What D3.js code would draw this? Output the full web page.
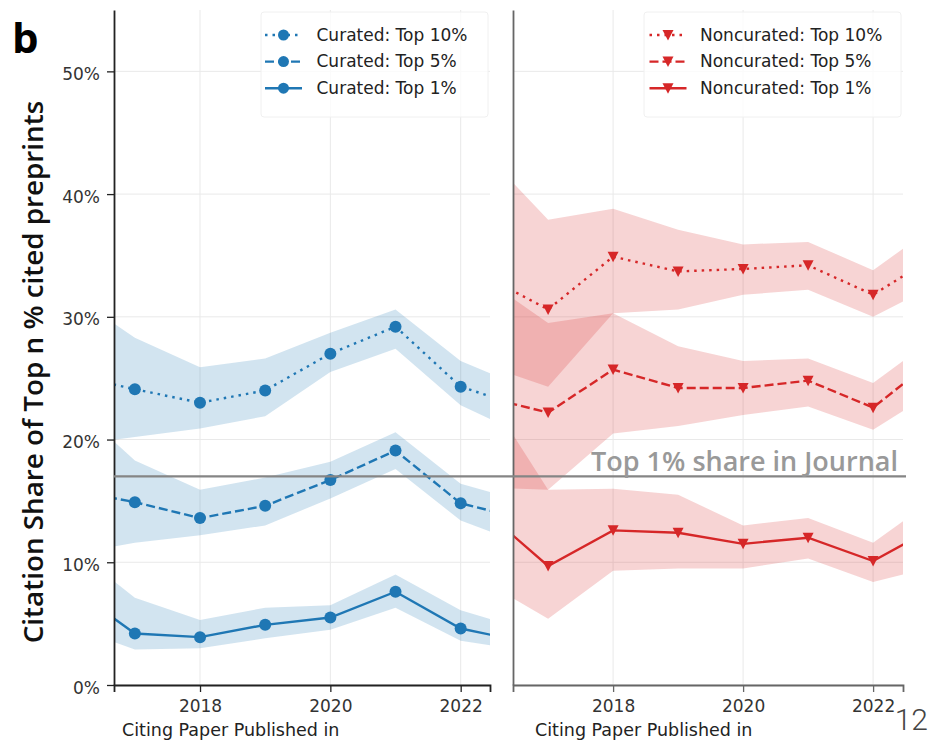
<!DOCTYPE html>
<html>
<head>
<meta charset="utf-8">
<script src="https://cdn.jsdelivr.net/npm/d3@7"></script>
<style>
  body { margin: 0; background: #fff; }
  svg { display: block; font-family: "DejaVu Sans", sans-serif; }
</style>
</head>
<body>
<svg id="chart" width="930" height="740"></svg>
<script>
// Data (share in %, years outside the visible window keep the line/band edges right)
const years = [2016, 2017, 2018, 2019, 2020, 2021, 2022, 2023];

const curated10 = [25.3, 24.1, 23.0, 24.0, 27.0, 29.2, 24.3, 22.6];
const curated10Lo = [19.5, 20.2, 20.9, 21.9, 25.5, 27.4, 22.8, 20.3];
const curated10Hi = [31.9, 28.3, 25.9, 26.6, 28.7, 30.6, 26.4, 24.2];

const curated5 = [15.9, 14.9, 13.6, 14.6, 16.7, 19.1, 14.8, 13.5];
const curated5Lo = [10.6, 11.6, 12.2, 13.0, 15.2, 17.6, 13.4, 11.4];
const curated5Hi = [23.1, 18.3, 15.9, 16.9, 18.2, 20.6, 16.4, 14.9];

const curated1 = [8.0, 4.2, 3.9, 4.9, 5.5, 7.6, 4.6, 3.5];
const curated1Lo = [4.8, 2.9, 3.0, 3.8, 4.5, 6.3, 3.6, 2.8];
const curated1Hi = [11.3, 7.1, 5.3, 6.3, 6.5, 9.0, 6.1, 4.5];

const noncurated10 = [33.4, 30.6, 34.9, 33.7, 33.9, 34.2, 31.8, 35.1];
const noncurated10Lo = [26.1, 24.3, 30.3, 30.6, 31.8, 32.2, 30.0, 32.7];
const noncurated10Hi = [43.5, 37.9, 38.8, 37.1, 35.9, 36.1, 33.8, 37.6];

const noncurated5 = [23.5, 22.2, 25.7, 24.2, 24.2, 24.8, 22.6, 26.8];
const noncurated5Lo = [16.1, 15.9, 20.5, 21.1, 22.0, 22.7, 20.8, 24.1];
const noncurated5Hi = [33.2, 29.5, 30.3, 27.6, 26.4, 26.6, 24.6, 28.5];

const noncurated1 = [14.3, 9.7, 12.6, 12.4, 11.5, 12.0, 10.1, 13.0];
const noncurated1Lo = [8.5, 5.4, 9.3, 9.5, 9.5, 10.3, 8.4, 9.7];
const noncurated1Hi = [24.2, 15.9, 16.0, 15.5, 13.0, 13.6, 11.6, 15.4];

const yTicks = [0, 10, 20, 30, 40, 50];
const xTicks = [2018, 2020, 2022];
const journalTop1 = 17;

const BLUE = "#1f77b4";
const RED = "#d62728";

// Setup
const svg = d3.select("#chart");
const defs = svg.append("defs");
const yTop = 10;
const yBottom = 685;
const y = d3.scaleLinear().domain([0, 55]).range([yBottom, yTop]);

const curatedSeries = [
  { label: "Curated: Top 10%", mean: curated10, lo: curated10Lo, hi: curated10Hi, dash: "2.5,5" },
  { label: "Curated: Top 5%", mean: curated5, lo: curated5Lo, hi: curated5Hi, dash: "9,4" },
  { label: "Curated: Top 1%", mean: curated1, lo: curated1Lo, hi: curated1Hi, dash: null },
];
const noncuratedSeries = [
  { label: "Noncurated: Top 10%", mean: noncurated10, lo: noncurated10Lo, hi: noncurated10Hi, dash: "2.5,5" },
  { label: "Noncurated: Top 5%", mean: noncurated5, lo: noncurated5Lo, hi: noncurated5Hi, dash: "9,4" },
  { label: "Noncurated: Top 1%", mean: noncurated1, lo: noncurated1Lo, hi: noncurated1Hi, dash: null },
];

const trianglePath = "M-5.5,-5L5.5,-5L0,5.5Z";

function drawMarker(sel, kind, color) {
  if (kind === "circle") {
    sel.append("circle").attr("r", 6).attr("fill", color);
  } else {
    sel.append("path").attr("d", trianglePath).attr("fill", color);
  }
}

function drawPanel(opts) {
  const x = d3.scaleLinear().domain(opts.domain).range([opts.x0, opts.x1]);
  const g = svg.append("g");

  defs
    .append("clipPath")
    .attr("id", opts.clipId)
    .append("rect")
    .attr("x", opts.x0)
    .attr("y", yTop)
    .attr("width", opts.x1 - opts.x0)
    .attr("height", yBottom - yTop);

  // Grid
  g.append("g")
    .selectAll("line")
    .data(yTicks)
    .join("line")
    .attr("x1", opts.x0)
    .attr("x2", opts.x1)
    .attr("y1", (d) => y(d))
    .attr("y2", (d) => y(d))
    .attr("stroke", "#e9e9e9")
    .attr("stroke-width", 1);

  g.append("g")
    .selectAll("line")
    .data(xTicks)
    .join("line")
    .attr("x1", (d) => x(d))
    .attr("x2", (d) => x(d))
    .attr("y1", yTop)
    .attr("y2", yBottom)
    .attr("stroke", "#e9e9e9")
    .attr("stroke-width", 1);

  const plot = g.append("g").attr("clip-path", `url(#${opts.clipId})`);

  const rows = opts.series.map((s) =>
    years.map((yr, i) => ({ yr, m: s.mean[i], lo: s.lo[i], hi: s.hi[i] }))
  );

  // Confidence bands below all lines
  const area = d3
    .area()
    .x((d) => x(d.yr))
    .y0((d) => y(d.lo))
    .y1((d) => y(d.hi));

  plot
    .append("g")
    .selectAll("path")
    .data(rows)
    .join("path")
    .attr("d", area)
    .attr("fill", opts.color)
    .attr("fill-opacity", 0.2);

  const line = d3
    .line()
    .x((d) => x(d.yr))
    .y((d) => y(d.m));

  opts.series.forEach((s, k) => {
    plot
      .append("path")
      .attr("d", line(rows[k]))
      .attr("fill", "none")
      .attr("stroke", opts.color)
      .attr("stroke-width", 2.4)
      .attr("stroke-dasharray", s.dash);

    plot
      .append("g")
      .selectAll("g")
      .data(rows[k])
      .join("g")
      .attr("transform", (d) => `translate(${x(d.yr)},${y(d.m)})`)
      .each(function () {
        drawMarker(d3.select(this), opts.marker, opts.color);
      });
  });

  // Axes
  const yAxis = d3
    .axisLeft(y)
    .tickValues(opts.showYTicks ? yTicks : [])
    .tickFormat((d) => d + "%")
    .tickSize(7)
    .tickPadding(7)
    .tickSizeOuter(0);

  g.append("g")
    .attr("transform", `translate(${opts.x0},0)`)
    .call(yAxis)
    .call((a) => a.select(".domain").attr("stroke", opts.spine).attr("stroke-width", 1.8))
    .call((a) => a.selectAll(".tick line").attr("stroke", opts.spine).attr("stroke-width", 1.3))
    .call((a) =>
      a
        .selectAll(".tick text")
        .attr("font-size", 17)
        .attr("font-family", "DejaVu Sans")
        .attr("fill", "#333")
        .attr("dy", "0.47em")
    );

  const xAxis = d3
    .axisBottom(x)
    .tickValues(xTicks)
    .tickFormat(d3.format("d"))
    .tickSize(7)
    .tickPadding(7.5)
    .tickSizeOuter(7);

  g.append("g")
    .attr("transform", `translate(0,${yBottom})`)
    .call(xAxis)
    .call((a) => a.select(".domain").attr("stroke", opts.spine).attr("stroke-width", 1.8))
    .call((a) => a.selectAll(".tick line").attr("stroke", opts.spine).attr("stroke-width", 1.3))
    .call((a) =>
      a
        .selectAll(".tick text")
        .attr("font-size", 17)
        .attr("font-family", "DejaVu Sans")
        .attr("fill", "#333")
    );

  g.append("text")
    .attr("x", opts.xLabelX)
    .attr("y", 736)
    .attr("font-size", 17.5)
    .attr("fill", "#222")
    .text("Citing Paper Published in");

  // Legend
  const lg = svg.append("g");
  lg.append("rect")
    .attr("x", opts.legend.x0)
    .attr("y", 12)
    .attr("width", opts.legend.x1 - opts.legend.x0)
    .attr("height", 105)
    .attr("rx", 3)
    .attr("fill", "#fff")
    .attr("fill-opacity", 0.8)
    .attr("stroke", "#f0f0f0")
    .attr("stroke-width", 1);

  const item = lg
    .selectAll("g.item")
    .data(opts.series)
    .join("g")
    .attr("class", "item")
    .attr("transform", (d, i) => `translate(${opts.legend.mark},${35 + i * 26.6})`);

  item
    .append("line")
    .attr("x1", -18.5)
    .attr("x2", 18.5)
    .attr("stroke", opts.color)
    .attr("stroke-width", 2.4)
    .attr("stroke-dasharray", (d) => d.dash);

  item.each(function () {
    const m = d3.select(this).append("g");
    drawMarker(m, opts.marker, opts.color);
    if (opts.marker === "circle") m.select("circle").attr("r", 5.5);
  });

  item
    .append("text")
    .attr("x", opts.legend.text - opts.legend.mark)
    .attr("dy", "0.34em")
    .attr("font-size", 17)
    .attr("fill", "#222")
    .text((d) => d.label);
}

drawPanel({
  x0: 114,
  x1: 490,
  domain: [2016.68, 2022.45],
  series: curatedSeries,
  color: BLUE,
  marker: "circle",
  spine: "#222",
  showYTicks: true,
  clipId: "clip-left",
  xLabelX: 122,
  legend: { x0: 261, x1: 488, mark: 283.5, text: 316.5 },
});

drawPanel({
  x0: 513,
  x1: 903,
  domain: [2016.46, 2022.46],
  series: noncuratedSeries,
  color: RED,
  marker: "triangle",
  spine: "#666",
  showYTicks: false,
  clipId: "clip-right",
  xLabelX: 535,
  legend: { x0: 644, x1: 901, mark: 668, text: 700 },
});

// Journal reference line across both panels
svg
  .append("line")
  .attr("x1", 114)
  .attr("x2", 906)
  .attr("y1", y(journalTop1))
  .attr("y2", y(journalTop1))
  .attr("stroke", "#858585")
  .attr("stroke-width", 2.4);

const journalText = svg
  .append("text")
  .attr("x", 898)
  .attr("y", 471)
  .attr("text-anchor", "end")
  .style("font-family", "'Open Sans', sans-serif")
  .attr("font-weight", 600)
  .attr("font-size", 26)
  .attr("fill", "#999")
  .text("Top 1% share in Journal");

// Y label
const yLabel = svg
  .append("text")
  .attr("transform", "translate(43,372) rotate(-90)")
  .attr("text-anchor", "middle")
  .style("font-family", "'Open Sans', sans-serif")
  .attr("font-weight", 600)
  .attr("font-size", 26)
  .attr("fill", "#111")
  .text("Citation Share of Top n % cited preprints");

// Scale a text so it spans the same width as in the figure
function fitWidth(sel, width) {
  const len = sel.node().getComputedTextLength();
  sel.attr("font-size", (+sel.attr("font-size") * width) / len);
}
fitWidth(journalText, 307);
fitWidth(yLabel, 543);

// Panel letter and page number
svg
  .append("text")
  .attr("x", 12)
  .attr("y", 53)
  .style("font-family", "'Open Sans', sans-serif")
  .attr("font-weight", 700)
  .attr("font-size", 42)
  .attr("fill", "#000")
  .text("b");

svg
  .append("text")
  .attr("x", 928)
  .attr("y", 730)
  .attr("text-anchor", "end")
  .style("font-family", "Roboto, sans-serif")
  .attr("font-weight", 300)
  .attr("font-size", 30)
  .attr("fill", "#444")
  .text("12");
</script>
</body>
</html>
